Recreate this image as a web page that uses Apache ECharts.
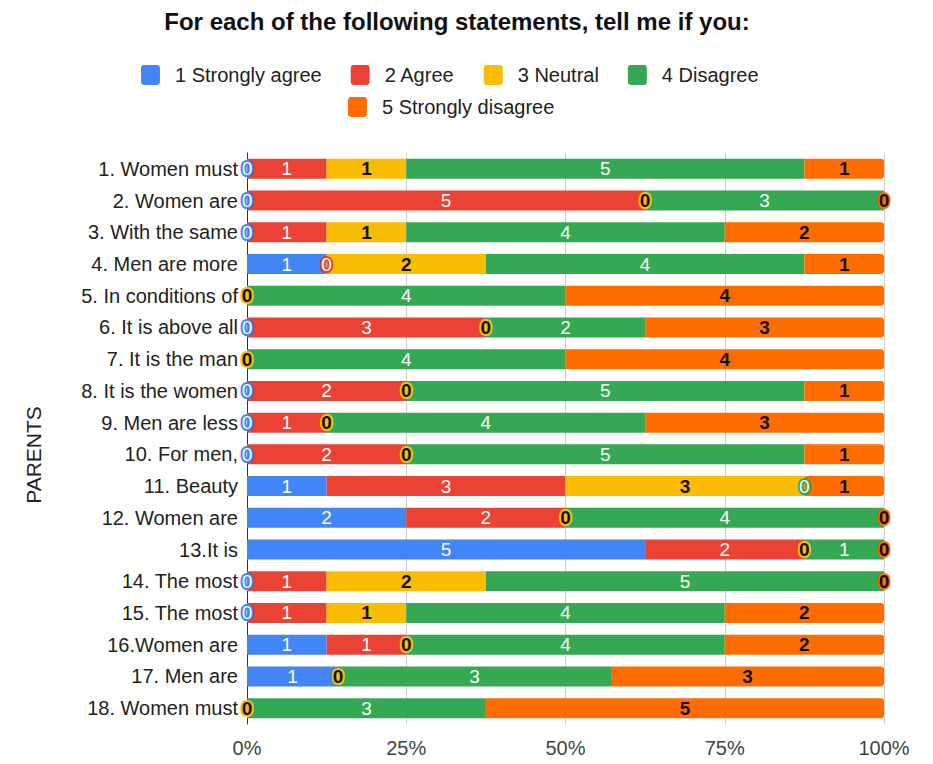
<!DOCTYPE html>
<html>
<head>
<meta charset="utf-8">
<script src="https://cdn.jsdelivr.net/npm/echarts@6/dist/echarts.min.js"></script>
<style>
html,body{margin:0;padding:0;background:#fff;}
#chart{width:933px;height:764px;}
</style>
</head>
<body>
<div id="chart"></div>
<script>
var categories = ["1. Women must","2. Women are","3. With the same","4. Men are more","5. In conditions of","6. It is above all","7. It is the man","8. It is the women","9. Men are less","10. For men,","11. Beauty","12. Women are","13.It is","14. The most","15. The most","16.Women are","17. Men are","18. Women must"];
var seriesNames = ["1 Strongly agree","2 Agree","3 Neutral","4 Disagree","5 Strongly disagree"];
var stronglyAgree    = [0,0,0,1,null,0,null,0,0,0,1,2,5,0,0,1,1,null];
var agree            = [1,5,1,0,null,3,null,2,1,2,3,2,2,1,1,1,null,null];
var neutral          = [1,0,1,2,0,0,0,0,0,0,3,0,0,2,1,0,0,0];
var disagree         = [5,3,4,4,4,2,4,5,4,5,0,4,1,5,4,4,3,3];
var stronglyDisagree = [1,0,2,1,4,3,4,1,3,1,1,0,0,0,2,2,3,5];
var xTickLabels = ["0%","25%","50%","75%","100%"];

var colors = ["#4285F4","#EA4335","#FBBC04","#34A853","#FF6D01"];
var labelColors = ["#ffffff","#ffffff","#111111","#ffffff","#111111"];
var labelWeights = ["normal","normal","bold","normal","bold"];
var FONT = "Liberation Sans, Arial, sans-serif";

var allCounts = [stronglyAgree, agree, neutral, disagree, stronglyDisagree];
var totals = categories.map(function(c, i){
  var t = 0;
  allCounts.forEach(function(arr){ if (arr[i] != null) t += arr[i]; });
  return t;
});

var series = allCounts.map(function(arr, si){
  return {
    name: seriesNames[si],
    type: 'bar',
    stack: 'total',
    barWidth: 20,
    itemStyle: { color: colors[si], borderRadius: si === 4 ? [0,3,3,0] : 0 },
    label: {
      show: true,
      position: 'inside',
      formatter: function(p){ return p.data.count; },
      color: labelColors[si],
      fontWeight: labelWeights[si],
      fontSize: 19,
      fontFamily: FONT,
      textBorderColor: colors[si],
      textBorderWidth: 4
    },
    emphasis: { disabled: true },
    data: arr.map(function(v, i){
      if (v == null) return { value: null, count: '' };
      return { value: v / totals[i] * 100, count: v };
    })
  };
});

var ICON = 'path://M3,0 H15 Q18,0 18,3 V16 Q18,19 15,19 H3 Q0,19 0,16 V3 Q0,0 3,0 Z';
var legendCommon = {
  itemWidth: 19,
  itemHeight: 20,
  itemGap: 29,
  icon: ICON,
  textStyle: { fontSize: 20, color: '#222', fontFamily: FONT, padding: [0,0,0,10] }
};

var chart = echarts.init(document.getElementById('chart'), null, { renderer: 'svg' });
chart.setOption({
  animation: false,
  color: colors,
  title: {
    text: 'For each of the following statements, tell me if you:',
    left: 452,
    textAlign: 'center',
    top: 4,
    textStyle: { fontSize: 24, fontWeight: 'bold', color: '#111', fontFamily: FONT }
  },
  legend: [
    Object.assign({ data: seriesNames.slice(0,4), left: 136, top: 60 }, legendCommon),
    Object.assign({ data: seriesNames.slice(4), left: 343, top: 92 }, legendCommon)
  ],
  grid: { left: 247, right: 49, top: 153, bottom: 40, containLabel: false },
  xAxis: {
    type: 'value',
    min: 0, max: 100, interval: 25,
    axisLine: { show: false },
    axisTick: { show: false },
    splitLine: { lineStyle: { color: '#cccccc', width: 1 } },
    axisLabel: {
      fontSize: 20, color: '#444', fontFamily: FONT, margin: 14,
      formatter: function(v){ return xTickLabels[Math.round(v/25)]; }
    }
  },
  yAxis: {
    type: 'category',
    inverse: true,
    data: categories,
    axisLine: { show: true, lineStyle: { color: '#333', width: 1 } },
    axisTick: { show: false },
    axisLabel: { fontSize: 20, color: '#222', fontFamily: FONT, margin: 9 }
  },
  graphic: [{
    type: 'text',
    x: 33, y: 455,
    rotation: Math.PI / 2,
    style: { text: 'PARENTS', fontSize: 21, fontFamily: FONT, fill: '#222', align: 'center', verticalAlign: 'middle' }
  }],
  series: series
});
</script>
</body>
</html>
